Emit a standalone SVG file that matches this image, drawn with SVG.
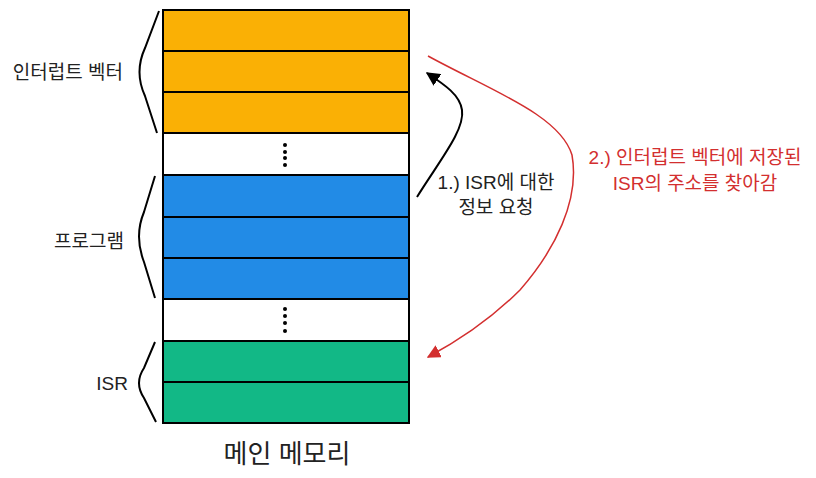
<svg xmlns="http://www.w3.org/2000/svg" width="816" height="478" viewBox="0 0 816 478">
<defs>
<style>
.cell{stroke:#000;stroke-width:2}
.or{fill:#FAB005}.bl{fill:#228BE6}.gr{fill:#12B886}.wh{fill:#fff}
.brace{fill:none;stroke:#000;stroke-width:2}
.t{font-family:"Liberation Sans","Noto Sans CJK KR",sans-serif;font-size:19px;fill:#222}
.r{fill:#d32f2f}
.dot{fill:#000}
</style>
<marker id="ab" viewBox="0 0 10 10" refX="9" refY="5" markerWidth="7" markerHeight="7" orient="auto"><path d="M0,0L10,5L0,10z" fill="#000"/></marker>
<marker id="ar" viewBox="0 0 10 10" refX="9" refY="5" markerWidth="9" markerHeight="9" orient="auto"><path d="M0,0L10,5L0,10z" fill="#d32f2f"/></marker>
</defs>
<g id="memory">
<rect class="cell or" x="163" y="10" width="246" height="41"/>
<rect class="cell or" x="163" y="51" width="246" height="41"/>
<rect class="cell or" x="163" y="92" width="246" height="41"/>
<rect class="cell wh" x="163" y="133" width="246" height="42"/>
<rect class="cell bl" x="163" y="175" width="246" height="42"/>
<rect class="cell bl" x="163" y="217" width="246" height="41"/>
<rect class="cell bl" x="163" y="258" width="246" height="41"/>
<rect class="cell wh" x="163" y="299" width="246" height="42"/>
<rect class="cell gr" x="163" y="341" width="246" height="41"/>
<rect class="cell gr" x="163" y="382" width="246" height="41"/>
<circle class="dot" cx="285" cy="145" r="2"/><circle class="dot" cx="285" cy="152" r="2"/><circle class="dot" cx="285" cy="158" r="2"/><circle class="dot" cx="285" cy="165" r="2"/>
<circle class="dot" cx="285" cy="309" r="2"/><circle class="dot" cx="285" cy="316" r="2"/><circle class="dot" cx="285" cy="323" r="2"/><circle class="dot" cx="285" cy="331" r="2"/>
<text class="t" x="287" y="463" text-anchor="middle" style="font-size:26px">메인 메모리</text>
</g>
<g id="brace-ivt">
<path class="brace" d="M159,11 L145,48 Q134,72 145,96 L157,133"/>
<text class="t" x="123" y="79" text-anchor="end">인터럽트 벡터</text>
</g>
<g id="brace-prog">
<path class="brace" d="M155,176 L144,212 Q134,236 144,262 L155,298"/>
<text class="t" x="124" y="248" text-anchor="end">프로그램</text>
</g>
<g id="brace-isr">
<path class="brace" d="M155,342 L144,368 Q134,383 144,398 L156,422"/>
<text class="t" x="128" y="390" text-anchor="end">ISR</text>
</g>
<g id="connectors">
<path d="M417,197 C440,160 465,130 462,110 C460,95 445,85 427,73" fill="none" stroke="#000" stroke-width="2" marker-end="url(#ab)"/>
<path d="M428,56 C490,90 560,115 572,155 C580,200 555,250 520,290 C490,320 460,340 428,357" fill="none" stroke="#d32f2f" stroke-width="1.5" marker-end="url(#ar)"/>
</g>
<g id="label1">
<text class="t" x="496" y="189" text-anchor="middle">1.) ISR에 대한</text>
<text class="t" x="496" y="214" text-anchor="middle">정보 요청</text>
</g>
<g id="label2">
<text class="t r" x="695" y="164" text-anchor="middle">2.) 인터럽트 벡터에 저장된</text>
<text class="t r" x="695" y="190" text-anchor="middle">ISR의 주소를 찾아감</text>
</g>
</svg>
